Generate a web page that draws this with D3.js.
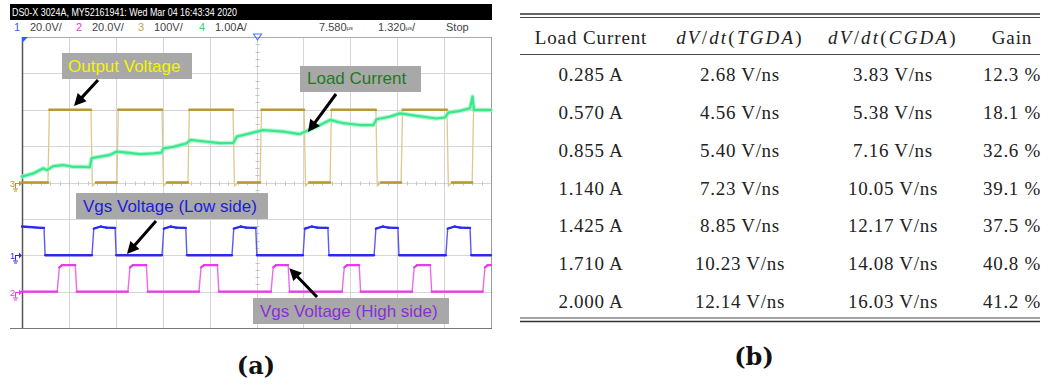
<!DOCTYPE html>
<html><head><meta charset="utf-8">
<script src="https://cdn.jsdelivr.net/npm/d3@7"></script>
<style>html,body{margin:0;padding:0;background:#fff;} svg{display:block}</style>
</head><body>
<svg id="c" width="1049" height="385"></svg>
<script>
// ================= DATA =================
// --- oscilloscope header ---
const headerText = "DS0-X 3024A, MY52161941: Wed Mar 04 16:43:34 2020";
const chNames = ["1", "2", "3", "4"];
const chScaleLabels = ["20.0V/", "20.0V/", "100V/", "1.00A/"];
const timeDelay = "7.580";
const timeBase = "1.320";
const runState = "Stop";
// channel volts(amps)/div and ground offset in divisions
const chPerDiv = [20, 20, 100, 1];
const chOffsetDiv = [-2, -3, 0, 0];
const timePerDiv = 1.32;   // µs/div
const nDivX = 10, nDivY = 8;

// --- ch3 output voltage (V), edge times in µs ---
const vOutRise = [0.73, 2.67, 4.67, 6.70, 8.67, 10.67, 12.67];
const vOutFall = [1.94, 3.94, 5.94, 7.94, 9.96, 11.96];
const vOutLevels = [0, 200];      // low, high
const vOutUndershoot = -10;

// --- ch1 Vgs low side (V) ---
const vgsLowFall = [0.65, 2.65, 4.64, 6.61, 8.64, 10.61, 12.64];
const vgsLowRise = [1.97, 3.94, 5.91, 7.91, 9.91, 11.93];
const vgsLowTop = [14.6, 15.8, 15.0];  // start, hump, end of plateau

// --- ch2 Vgs high side (V) ---
const vgsHighRise = [0.99, 2.98, 4.98, 7.01, 9.01, 10.98, 12.97];
const vgsHighFall = [1.52, 3.52, 5.52, 7.51, 9.51, 11.51];
const vgsHighTop = [13.4, 14.6];

// --- ch4 load current (A) ---
const loadT = [0.00,0.32,0.60,0.70,0.88,1.16,1.44,1.73,1.91,1.96,2.20,2.48,2.67,2.95,3.32,3.70,3.93,3.98,4.26,4.64,4.73,5.20,5.57,5.95,6.04,6.42,6.79,7.35,7.82,7.97,8.29,8.67,9.04,9.51,9.89,9.98,10.36,10.64,11.11,11.67,11.91,12.00,12.33,12.61,12.68,12.72,13.20];
const loadA = [0.16,0.25,0.39,0.34,0.45,0.48,0.43,0.43,0.42,0.67,0.71,0.76,0.85,0.82,0.78,0.80,0.82,0.94,0.98,1.08,1.17,1.12,1.08,1.09,1.26,1.35,1.44,1.40,1.33,1.40,1.53,1.72,1.63,1.58,1.58,1.74,1.81,1.90,1.83,1.76,1.79,1.92,1.97,2.04,2.36,1.99,1.99];

// --- annotations (time µs, divisions) ---
const annLabels = ["Output Voltage", "Load Current", "Vgs Voltage (Low side)", "Vgs Voltage (High side)"];
const annBox = [[1.126, 4.785, 3.56, 2.845], [7.824, 11.23, 3.203, 2.488], [1.52, 6.924, -0.289, -1.003], [6.502, 12.018, -3.175, -3.890]];
const annText = [[1.295, 3.046], [8.021, 2.708], [1.717, -0.811], [6.699, -3.698]];
const annArrow = [[2.139, 2.818, 1.464, 2.103], [8.838, 2.433, 8.049, 1.388], [3.771, -1.058, 2.955, -1.966], [8.303, -3.148, 7.523, -2.359]];

// --- table ---
const tableHeaders = ["Load Current", "dV/dt(TGDA)", "dV/dt(CGDA)", "Gain"];
const loadCurrent = [0.285, 0.570, 0.855, 1.140, 1.425, 1.710, 2.000];
const dvdtTGDA = [2.68, 4.56, 5.40, 7.23, 8.85, 10.23, 12.14];
const dvdtCGDA = [3.83, 5.38, 7.16, 10.05, 12.17, 14.08, 16.03];
const gainPct = [12.3, 18.1, 32.6, 39.1, 37.5, 40.8, 41.2];
const captions = ["(a)", "(b)"];

// ================= DRAWING =================
const svg = d3.select("#c");
const C = {
  ch1: "#2b2bf0", ch2: "#e83ae8", ch3: "#b8982f", ch4: "#3ce68a",
  grid: "#d6d6d6", box: "#a8a8a8"
};
const edgeColors = ["#5a5af0", "#ec6aec", "#dcc98e"];
const chColors = ["#3a5cff", "#e040e0", "#c8a048", "#3ed070"];
const annColors = ["#f4f400", "#1f7a1f", "#1c1ce0", "#8a2fd8"];

const L = 22, R = 491, T = 37, B = 328;
const x = d3.scaleLinear().domain([0, nDivX * timePerDiv]).range([L, R]);
const y = d3.scaleLinear().domain([-nDivY / 2, nDivY / 2]).range([B, T]);
const tEnd = nDivX * timePerDiv;

// header bar
svg.append("rect").attr("x", 10).attr("y", 4).attr("width", 482).attr("height", 16).attr("fill", "#000");
svg.append("text").attr("x", 12).attr("y", 16).attr("fill", "#fff")
  .attr("font-family", "Liberation Sans, Arial, sans-serif").attr("font-size", 10.5)
  .attr("textLength", 225).attr("lengthAdjust", "spacingAndGlyphs").text(headerText);

// channel row
const chRowX = [14, 76, 138, 199];
const chRowG = svg.append("g").attr("font-family", "Liberation Sans, Arial, sans-serif").attr("font-size", 11);
chNames.forEach((n, i) => {
  chRowG.append("text").attr("x", chRowX[i]).attr("y", 31).attr("fill", chColors[i]).text(n);
  chRowG.append("text").attr("x", chRowX[i] + 16).attr("y", 31).attr("fill", "#444").text(chScaleLabels[i]);
});
const td = chRowG.append("text").attr("x", 319).attr("y", 31).attr("fill", "#444");
td.append("tspan").text(timeDelay);
td.append("tspan").attr("font-size", 6).attr("dy", -1).text("µs");
const tb = chRowG.append("text").attr("x", 378).attr("y", 31).attr("fill", "#444");
tb.append("tspan").text(timeBase);
tb.append("tspan").attr("font-size", 6).attr("dy", -1).text("µs");
tb.append("tspan").attr("dy", 1).text("/");
chRowG.append("text").attr("x", 446).attr("y", 31).attr("fill", "#444").text(runState);

// grid
const grid = svg.append("g").attr("stroke", C.grid).attr("stroke-width", 1);
d3.range(0, nDivX + 1).forEach(i => {
  const px = Math.round(x(i * timePerDiv)) + 0.5;
  grid.append("line").attr("x1", px).attr("x2", px).attr("y1", T).attr("y2", B);
});
d3.range(0, nDivY + 1).forEach(j => {
  const py = Math.round(y(j - nDivY / 2)) + 0.5;
  grid.append("line").attr("x1", L).attr("x2", R).attr("y1", py).attr("y2", py);
});
// minor ticks on centre axes
const cx = Math.round(x(tEnd / 2)) + 0.5, cy = Math.round(y(0)) + 0.5;
d3.range(0, nDivX * 5 + 1).forEach(k => {
  const px = Math.round(x(k * timePerDiv / 5)) + 0.5;
  grid.append("line").attr("x1", px).attr("x2", px).attr("y1", cy - 2).attr("y2", cy + 2).attr("stroke", "#c4c4c4");
});
d3.range(0, nDivY * 5 + 1).forEach(k => {
  const py = Math.round(y(k / 5 - nDivY / 2)) + 0.5;
  grid.append("line").attr("x1", cx - 2).attr("x2", cx + 2).attr("y1", py).attr("y2", py).attr("stroke", "#c4c4c4");
});
// frame
svg.append("line").attr("x1", L + 0.5).attr("x2", L + 0.5).attr("y1", T).attr("y2", B).attr("stroke", "#555").attr("stroke-width", 1.5);
svg.append("line").attr("x1", 10).attr("x2", R + 1).attr("y1", B + 0.5).attr("y2", B + 0.5).attr("stroke", "#777");
svg.append("line").attr("x1", R + 0.5).attr("x2", R + 0.5).attr("y1", T).attr("y2", B).attr("stroke", "#999");
svg.append("line").attr("x1", L).attr("x2", R).attr("y1", T + 0.5).attr("y2", T + 0.5).attr("stroke", "#aaa");

// trigger markers
svg.append("path").attr("d", `M${L},${T}L${L + 6},${T}L${L},${T + 6}Z`).attr("fill", "#2a5cff");
svg.append("path").attr("d", `M${cx - 4},${T - 3}L${cx + 4},${T - 3}L${cx},${T + 3}Z`).attr("fill", "none").attr("stroke", "#4a7cff").attr("stroke-width", 1.2);

// channel value -> pixel
const toY = ch => v => y(v / chPerDiv[ch] + chOffsetDiv[ch]);

// ground markers (ch3, ch1, ch2)
[[2, "3"], [0, "1"], [1, "2"]].forEach(([ch, lab]) => {
  const gy = Math.round(toY(ch)(0)) + 0.5;
  const col = [C.ch1, C.ch2, C.ch3][ch];
  const g = svg.append("g").attr("stroke", col).attr("fill", col);
  g.append("text").attr("x", 10).attr("y", gy + 3).attr("font-size", 9).attr("stroke", "none")
    .attr("font-family", "Liberation Sans, Arial, sans-serif").text(lab);
  g.append("line").attr("x1", 15).attr("x2", 20).attr("y1", gy).attr("y2", gy);
  g.append("path").attr("d", `M19,${gy - 3}L22,${gy}L19,${gy + 3}Z`).attr("stroke", "none");
  g.append("line").attr("x1", 15.5).attr("x2", 15.5).attr("y1", gy).attr("y2", gy + 5);
  g.append("line").attr("x1", 13).attr("x2", 18).attr("y1", gy + 5.5).attr("y2", gy + 5.5);
  g.append("line").attr("x1", 14).attr("x2", 17).attr("y1", gy + 7.5).attr("y2", gy + 7.5);
});

// build waveforms from edge lists
function buildOut() {
  const ev = vOutRise.map(t => [t, 1]).concat(vOutFall.map(t => [t, 0])).sort((a, b) => a[0] - b[0]);
  const pts = [[0, vOutLevels[0]]];
  ev.forEach(([t, up]) => {
    if (up) { pts.push([t, vOutLevels[0]], [t + 0.04, vOutLevels[1]]); }
    else { pts.push([t, vOutLevels[1]], [t + 0.04, vOutUndershoot], [t + 0.14, vOutLevels[0]]); }
  });
  const last = ev[ev.length - 1];
  pts.push([tEnd, last[1] ? vOutLevels[1] : vOutLevels[0]]);
  return pts;
}
function buildLow() {
  const pts = [[0, vgsLowTop[1]]];
  const ev = vgsLowFall.map(t => [t, 0]).concat(vgsLowRise.map(t => [t, 1])).sort((a, b) => a[0] - b[0]);
  ev.forEach(([t, up]) => {
    if (up) {
      pts.push([t, 0], [t + 0.05, vgsLowTop[0]], [t + 0.25, vgsLowTop[1]], [t + 0.4, vgsLowTop[1] - 0.6]);
    } else {
      pts.push([t - 0.1, vgsLowTop[2]], [t - 0.03, vgsLowTop[2]], [t, 0]);
    }
  });
  pts.push([tEnd, 0]);
  return pts;
}
function buildHigh() {
  const pts = [[0, 0]];
  const ev = vgsHighRise.map(t => [t, 1]).concat(vgsHighFall.map(t => [t, 0])).sort((a, b) => a[0] - b[0]);
  ev.forEach(([t, up]) => {
    if (up) pts.push([t, 0], [t + 0.06, vgsHighTop[0]], [t + 0.14, vgsHighTop[1]]);
    else pts.push([t - 0.02, vgsHighTop[1]], [t + 0.02, 0]);
  });
  const last = ev[ev.length - 1];
  pts.push([tEnd, last[1] ? vgsHighTop[1] : 0]);
  return pts;
}
const traces = svg.append("g").attr("fill", "none").attr("stroke-linejoin", "round").attr("stroke-linecap", "round");
// draw trace: thin pale full path, thicker plateau segments
function drawTrace(ch, pts, col, edgeCol, wEdge, wFlat) {
  const px = pts.map(d => [x(d[0]), toY(ch)(d[1])]);
  traces.append("path").attr("d", d3.line()(px)).attr("stroke", edgeCol).attr("stroke-width", wEdge);
  for (let i = 1; i < px.length; i++) {
    const dx = px[i][0] - px[i - 1][0], dy = px[i][1] - px[i - 1][1];
    if (Math.abs(dy) < Math.abs(dx)) {
      traces.append("line").attr("x1", px[i - 1][0]).attr("y1", px[i - 1][1]).attr("x2", px[i][0]).attr("y2", px[i][1])
        .attr("stroke", col).attr("stroke-width", wFlat);
    }
  }
}
drawTrace(2, buildOut(), C.ch3, edgeColors[2], 1.3, 2.4);
drawTrace(0, buildLow(), C.ch1, edgeColors[0], 1.4, 2.3);
drawTrace(1, buildHigh(), C.ch2, edgeColors[1], 1.4, 2.2);
const loadPts = loadT.map((t, i) => [t, loadA[i]]);
const lineLoad = d3.line().x(d => x(d[0])).y(d => toY(3)(d[1]));
traces.append("path").attr("d", lineLoad(loadPts)).attr("stroke", "#9af5c4").attr("stroke-width", 4.5).attr("opacity", 0.8);
traces.append("path").attr("d", lineLoad(loadPts)).attr("stroke", C.ch4).attr("stroke-width", 2.2);

// annotations
const ann = svg.append("g");
annLabels.forEach((lab, i) => {
  const b = annBox[i];
  ann.append("rect").attr("x", x(b[0])).attr("y", y(b[2])).attr("width", x(b[1]) - x(b[0]))
    .attr("height", y(b[3]) - y(b[2])).attr("fill", C.box);
  ann.append("text").attr("x", x(annText[i][0])).attr("y", y(annText[i][1]))
    .attr("font-family", "Liberation Sans, Arial, sans-serif").attr("font-size", 17)
    .attr("fill", annColors[i]).text(lab);
  const a = annArrow[i];
  const x0 = x(a[0]), y0 = y(a[1]), x1 = x(a[2]), y1 = y(a[3]);
  const dx = x1 - x0, dy = y1 - y0, len = Math.hypot(dx, dy), ux = dx / len, uy = dy / len;
  const hl = 12, hw = 6;
  ann.append("line").attr("x1", x0).attr("y1", y0).attr("x2", x1 - ux * 8).attr("y2", y1 - uy * 8)
    .attr("stroke", "#000").attr("stroke-width", 3);
  const bx = x1 - ux * hl, by = y1 - uy * hl;
  ann.append("path").attr("d", `M${x1},${y1}L${bx - uy * hw},${by + ux * hw}L${bx + uy * hw},${by - ux * hw}Z`).attr("fill", "#000");
});

// ================= TABLE =================
const colX = [591, 740, 893, 1012];
const rowY = d3.scaleLinear().domain([0, loadCurrent.length - 1]).range([75, 302]);
const tab = svg.append("g").attr("font-family", "Liberation Serif, 'Times New Roman', serif")
  .attr("font-size", 19).attr("fill", "#222").attr("text-anchor", "middle");
const ruleX1 = 520, ruleX2 = 1040;
const rule = (yy, w) => svg.append("line").attr("x1", ruleX1).attr("x2", ruleX2).attr("y1", yy).attr("y2", yy).attr("stroke", "#333").attr("stroke-width", w);
rule(14, 1.4); rule(17.5, 0.9); rule(54.5, 0.9); rule(318, 0.9); rule(321.5, 1.4);

// header
const mathParts = s => {
  const m = s.match(/[A-Za-z]+|[^A-Za-z]+/g);
  return m.map(p => ({ p, it: /[A-Za-z]/.test(p) }));
};
tableHeaders.forEach((h, i) => {
  const t = tab.append("text").attr("x", colX[i]).attr("y", 44);
  if (h.startsWith("dV")) {
    t.attr("letter-spacing", 2.2);
    mathParts(h).forEach(o => t.append("tspan").attr("font-style", o.it ? "italic" : "normal").text(o.p));
  } else {
    t.attr("letter-spacing", 0.9).text(h);
  }
});
const fA = d3.format(".3f"), fV = d3.format(".2f"), fG = d3.format(".1f");
loadCurrent.forEach((v, r) => {
  const yy = rowY(r) + 6;
  const cells = [fA(v) + " A", fV(dvdtTGDA[r]) + " V/ns", fV(dvdtCGDA[r]) + " V/ns", fG(gainPct[r]) + " %"];
  cells.forEach((c, i) => tab.append("text").attr("x", colX[i]).attr("y", yy).attr("letter-spacing", 0.7).text(c));
});

// captions
const cap = svg.append("g").attr("font-family", "DejaVu Serif, serif").attr("font-weight", "bold")
  .attr("font-size", 24).attr("text-anchor", "middle").attr("fill", "#111");
cap.append("text").attr("x", 256).attr("y", 374).text(captions[0]);
cap.append("text").attr("x", 754).attr("y", 365).text(captions[1]);
</script>
</body></html>
